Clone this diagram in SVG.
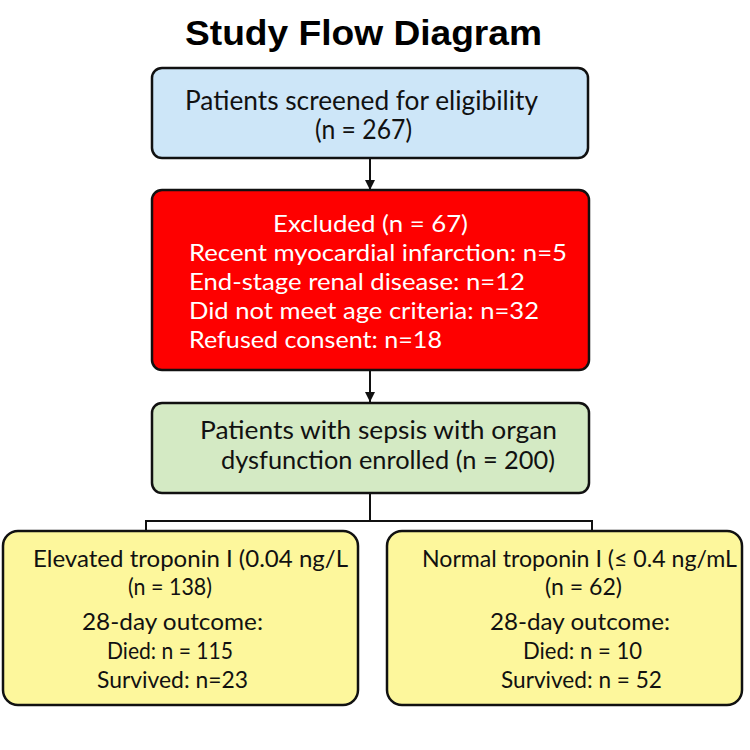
<svg xmlns="http://www.w3.org/2000/svg" width="750" height="750" viewBox="0 0 750 750">
<defs>
<style>
.box{stroke:#111;stroke-width:2.5}
.t{font-family:Lato,"Open Sans",sans-serif;font-size:24px;fill:#111}
.b{font-size:26px}
.g{font-size:25px}
.s{font-size:24px}
.w{fill:#fff}
.title{font-family:"Liberation Sans",Arial,sans-serif;font-weight:bold;font-size:35px;fill:#000}
.c{fill:none;stroke:#111;stroke-width:2}
</style>
<marker id="ah" viewBox="0 0 10 10" refX="10" refY="5" markerWidth="5" markerHeight="5.5" orient="auto">
<path d="M0,0 L10,5 L0,10 z" fill="#111"/>
</marker>
</defs>
<rect width="750" height="750" fill="#fff"/>
<text class="title" x="185" y="45" textLength="357" lengthAdjust="spacingAndGlyphs">Study Flow Diagram</text>
<g id="connectors">
<line class="c" x1="370" y1="158" x2="370" y2="190" marker-end="url(#ah)"/>
<line class="c" x1="370" y1="370" x2="370" y2="402" marker-end="url(#ah)"/>
<polyline class="c" points="370,493 370,521"/>
<polyline class="c" points="146,531 146,521 592,521 592,531"/>
</g>
<g id="screened">
<rect class="box" x="152" y="68" width="436" height="90" rx="10" fill="#cde6f8"/>
<text class="t b" x="185" y="110" textLength="353" lengthAdjust="spacingAndGlyphs">Patients screened for eligibility</text>
<text class="t b" x="315" y="139" textLength="97" lengthAdjust="spacingAndGlyphs">(n = 267)</text>
</g>
<g id="excluded">
<rect class="box" x="152" y="190" width="437" height="180" rx="10" fill="#fe0000"/>
<text class="t w" x="273" y="232" textLength="195" lengthAdjust="spacingAndGlyphs">Excluded (n = 67)</text>
<text class="t w" x="189" y="261" textLength="378" lengthAdjust="spacingAndGlyphs">Recent myocardial infarction: n=5</text>
<text class="t w" x="189" y="290" textLength="336" lengthAdjust="spacingAndGlyphs">End-stage renal disease: n=12</text>
<text class="t w" x="189" y="319" textLength="350" lengthAdjust="spacingAndGlyphs">Did not meet age criteria: n=32</text>
<text class="t w" x="189" y="348" textLength="253" lengthAdjust="spacingAndGlyphs">Refused consent: n=18</text>
</g>
<g id="enrolled">
<rect class="box" x="152" y="403" width="437" height="90" rx="10" fill="#d4eac4"/>
<text class="t g" x="200" y="439" textLength="357" lengthAdjust="spacingAndGlyphs">Patients with sepsis with organ</text>
<text class="t g" x="221" y="469" textLength="334" lengthAdjust="spacingAndGlyphs">dysfunction enrolled (n = 200)</text>
</g>
<g id="elevated">
<rect class="box" x="3" y="531" width="355" height="174" rx="15" fill="#fdf79c"/>
<text class="t s" x="33" y="567" textLength="315" lengthAdjust="spacingAndGlyphs">Elevated troponin I (0.04 ng/L</text>
<text class="t s" x="128" y="595" textLength="84" lengthAdjust="spacingAndGlyphs">(n = 138)</text>
<text class="t s" x="82" y="630" textLength="181" lengthAdjust="spacingAndGlyphs">28-day outcome:</text>
<text class="t s" x="107" y="659" textLength="126" lengthAdjust="spacingAndGlyphs">Died: n = 115</text>
<text class="t s" x="97" y="688" textLength="151" lengthAdjust="spacingAndGlyphs">Survived: n=23</text>
</g>
<g id="normal">
<rect class="box" x="387" y="531" width="355" height="174" rx="15" fill="#fdf79c"/>
<text class="t s" x="422" y="567" textLength="315" lengthAdjust="spacingAndGlyphs">Normal troponin I (≤ 0.4 ng/mL</text>
<text class="t s" x="545" y="595" textLength="77" lengthAdjust="spacingAndGlyphs">(n = 62)</text>
<text class="t s" x="490" y="630" textLength="180" lengthAdjust="spacingAndGlyphs">28-day outcome:</text>
<text class="t s" x="523" y="659" textLength="119" lengthAdjust="spacingAndGlyphs">Died: n = 10</text>
<text class="t s" x="501" y="688" textLength="161" lengthAdjust="spacingAndGlyphs">Survived: n = 52</text>
</g>
</svg>
